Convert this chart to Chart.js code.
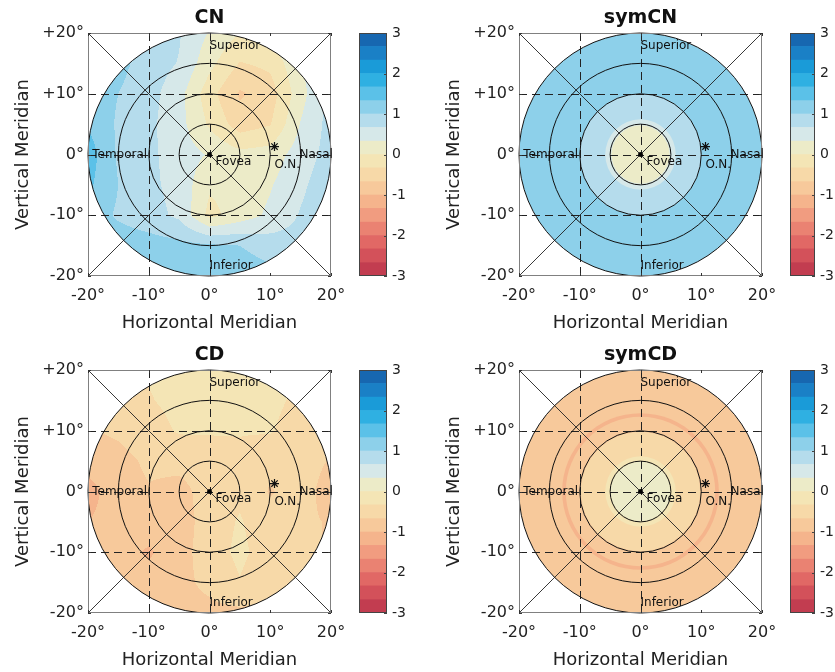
<!DOCTYPE html>
<html>
<head>
<meta charset="utf-8">
<title>CN / symCN / CD / symCD</title>
<script src="https://cdn.jsdelivr.net/npm/chart.js@4.4.1/dist/chart.umd.min.js"></script>
<style>
  body { margin: 0; background: #fff; }
  #wrap { position: relative; width: 835px; height: 672px; overflow: hidden; }
  #wrap canvas { position: absolute; }
</style>
</head>
<body>
<div id="wrap">
  <canvas id="mapCN" width="345" height="336" style="left:0;top:0"></canvas>
  <canvas id="barCN" width="80" height="336" style="left:350px;top:0"></canvas>
  <canvas id="mapSymCN" width="345" height="336" style="left:431px;top:0"></canvas>
  <canvas id="barSymCN" width="55" height="336" style="left:780px;top:0"></canvas>
  <canvas id="mapCD" width="345" height="336" style="left:0;top:337px"></canvas>
  <canvas id="barCD" width="80" height="336" style="left:350px;top:337px"></canvas>
  <canvas id="mapSymCD" width="345" height="336" style="left:431px;top:337px"></canvas>
  <canvas id="barSymCD" width="55" height="336" style="left:780px;top:337px"></canvas>
</div>
<script>
// Axis ticks (degrees of eccentricity)
const axisTicks = [-20, -10, 0, 10, 20];
const dashedX = [-10, 0];
const dashedY = [-10, 0, 10];
const ringLines = [5, 10, 15, 20];
const fieldRadius = 20;

// Colour scale: 18 levels from -3 to 3
const levelEdges = [-3, -2.67, -2.33, -2, -1.67, -1.33, -1, -0.67, -0.33, 0,
                    0.33, 0.67, 1, 1.33, 1.67, 2, 2.33, 2.67, 3];
const bandColors = ['#c23d50', '#d3515a', '#e16865', '#ea8272', '#f19c80', '#f5b48c',
                    '#f7c99b', '#f7d9a8', '#f4e5b5', '#ecebc8', '#d6e8e9', '#b5dcec',
                    '#8dd0ea', '#5bc1e8', '#2fb0e2', '#1a9bd8', '#1a80c6', '#1767b0'];

// Sample grid for the measured maps (x left->right, y top->bottom)
const gridX = [-20, -15, -10, -5, 0, 5, 10, 15, 20];
const gridY = [20, 15, 10, 5, 0, -5, -10, -15, -20];

const cnValues = [
  [1.2, 1.1, 1.0, 0.7, 0.3, 0.0, 0.1, 0.5, 0.9],
  [1.2, 1.1, 0.85, 0.65, 0.1, -0.35, -0.25, 0.3, 0.8],
  [1.2, 1.0, 0.8, 0.45, -0.2, -0.72, -0.5, 0.2, 0.8],
  [1.3, 0.95, 0.75, 0.45, -0.05, -0.5, -0.35, 0.35, 0.8],
  [1.5, 0.95, 0.75, 0.5, 0.3, 0.1, 0.15, 0.5, 0.8],
  [1.4, 1.0, 0.75, 0.55, 0.05, 0.1, 0.3, 0.6, 0.9],
  [1.2, 0.95, 0.8, 0.6, -0.1, 0.15, 0.4, 0.7, 0.9],
  [1.2, 1.2, 1.15, 1.1, 1.05, 1.0, 0.85, 0.8, 0.9],
  [1.2, 1.2, 1.2, 1.2, 1.2, 1.2, 1.1, 1.0, 0.9]
];

const cdValues = [
  [-0.6, -0.5, -0.3, -0.25, -0.2, -0.2, -0.2, -0.3, -0.5],
  [-0.6, -0.5, -0.35, -0.25, -0.2, -0.2, -0.25, -0.4, -0.5],
  [-0.7, -0.6, -0.45, -0.3, -0.3, -0.3, -0.3, -0.5, -0.6],
  [-0.9, -0.8, -0.6, -0.55, -0.5, -0.45, -0.6, -0.5, -0.7],
  [-1.1, -0.85, -0.7, -0.8, -0.5, -0.4, -0.7, -0.5, -0.85],
  [-1.0, -0.9, -0.8, -0.85, -0.5, -0.3, -0.55, -0.6, -0.7],
  [-0.9, -0.85, -1.05, -0.8, -0.5, -0.25, -0.5, -0.6, -0.7],
  [-0.8, -0.85, -0.85, -0.75, -0.6, -0.35, -0.6, -0.7, -0.7],
  [-0.75, -0.75, -0.75, -0.75, -0.75, -0.75, -0.75, -0.75, -0.75]
];

// Radial profiles for the symmetric maps (outer radius of each ring, value)
const symCNRadii = [20, 10, 5.8, 4.8];
const symCNValues = [1.15, 0.85, 0.5, 0.15];
const symCDRadii = [20, 12.9, 12.3, 9.8, 5.8, 4.9];
const symCDValues = [-0.85, -1.15, -0.85, -0.5, -0.15, 0.05];

// Landmarks
const fovea = [{x: 0, y: 0}];
const opticNerve = [{x: 10.7, y: 1.3}];

const mapNotes = [
  {text: 'Superior', x: 0, y: 17.8, align: 'left'},
  {text: 'Temporal', x: -19.3, y: 0, align: 'left'},
  {text: 'Nasal', x: 20.3, y: 0, align: 'right'},
  {text: 'Fovea', x: 1.0, y: -1.2, align: 'left'},
  {text: 'O.N.', x: 10.7, y: -1.7, align: 'left'},
  {text: 'Inferior', x: 0, y: -18.3, align: 'left'}
];

const FONT = "'DejaVu Sans', 'Open Sans', sans-serif";
Chart.defaults.font.family = FONT;
Chart.defaults.color = '#1a1a1a';

const bandRgb = bandColors.map(h => [1, 3, 5].map(i => parseInt(h.substr(i, 2), 16)));

function bandIndex(v) {
    for (let i = 0; i < bandColors.length; i++) {
        if (v < levelEdges[i + 1]) return i;
    }
    return bandColors.length - 1;
}

function sampleGrid(values, xv, yv) {
    const sx = (xv - gridX[0]) / (gridX[1] - gridX[0]);
    const sy = (yv - gridY[0]) / (gridY[1] - gridY[0]);
    const fx = Math.min(Math.max(sx, 0), gridX.length - 1.0001);
    const fy = Math.min(Math.max(sy, 0), gridY.length - 1.0001);
    const i = Math.floor(fx), j = Math.floor(fy);
    const tx = fx - i, ty = fy - j;
    const top = values[j][i] * (1 - tx) + values[j][i + 1] * tx;
    const bot = values[j + 1][i] * (1 - tx) + values[j + 1][i + 1] * tx;
    return top * (1 - ty) + bot * ty;
}

// Draws the contour field, the reference lines and the labels
function fieldPlugin(source) {
    return {
        id: 'field',
        beforeDatasetsDraw(chart) {
            const {ctx, chartArea: area, scales: {x, y}} = chart;
            const cx = x.getPixelForValue(0), cy = y.getPixelForValue(0);
            const rx = x.getPixelForValue(fieldRadius) - cx;
            const ry = cy - y.getPixelForValue(fieldRadius);

            ctx.save();
            ctx.beginPath();
            ctx.ellipse(cx, cy, rx, ry, 0, 0, Math.PI * 2);
            ctx.clip();
            if (source.grid) {
                const w = Math.ceil(area.width), h = Math.ceil(area.height);
                const off = document.createElement('canvas');
                off.width = w; off.height = h;
                const octx = off.getContext('2d');
                const img = octx.createImageData(w, h);
                for (let j = 0; j < h; j++) {
                    const yv = y.getValueForPixel(area.top + j + 0.5);
                    for (let i = 0; i < w; i++) {
                        const xv = x.getValueForPixel(area.left + i + 0.5);
                        const c = bandRgb[bandIndex(sampleGrid(source.grid, xv, yv))];
                        const k = (j * w + i) * 4;
                        img.data[k] = c[0]; img.data[k + 1] = c[1]; img.data[k + 2] = c[2]; img.data[k + 3] = 255;
                    }
                }
                octx.putImageData(img, 0, 0);
                ctx.drawImage(off, area.left, area.top);
            } else {
                source.radii.forEach((r, k) => {
                    ctx.fillStyle = bandColors[bandIndex(source.values[k])];
                    ctx.beginPath();
                    ctx.ellipse(cx, cy, rx * r / fieldRadius, ry * r / fieldRadius, 0, 0, Math.PI * 2);
                    ctx.fill();
                });
            }
            ctx.restore();

            ctx.save();
            ctx.strokeStyle = '#222';
            ctx.lineWidth = 1;
            ctx.setLineDash([8, 5]);
            dashedX.forEach(v => {
                const p = Math.round(x.getPixelForValue(v)) + 0.5;
                ctx.beginPath(); ctx.moveTo(p, area.top); ctx.lineTo(p, area.bottom); ctx.stroke();
            });
            dashedY.forEach(v => {
                const p = Math.round(y.getPixelForValue(v)) + 0.5;
                ctx.beginPath(); ctx.moveTo(area.left, p); ctx.lineTo(area.right, p); ctx.stroke();
            });
            ctx.setLineDash([]);

            // diagonals
            ctx.lineWidth = 0.9;
            ctx.beginPath();
            ctx.moveTo(area.left, area.top); ctx.lineTo(area.right, area.bottom);
            ctx.moveTo(area.left, area.bottom); ctx.lineTo(area.right, area.top);
            ctx.stroke();

            // eccentricity circles
            ctx.strokeStyle = '#111';
            ctx.lineWidth = 1;
            ringLines.forEach(r => {
                ctx.beginPath();
                ctx.ellipse(cx, cy, rx * r / fieldRadius, ry * r / fieldRadius, 0, 0, Math.PI * 2);
                ctx.stroke();
            });

            // box and inward ticks
            ctx.strokeStyle = '#808080';
            ctx.strokeRect(area.left + 0.5, area.top + 0.5, area.width - 1, area.height - 1);
            ctx.strokeStyle = '#333';
            ctx.beginPath();
            axisTicks.forEach(v => {
                const px = Math.round(x.getPixelForValue(v)) + 0.5;
                const py = Math.round(y.getPixelForValue(v)) + 0.5;
                ctx.moveTo(px, area.top); ctx.lineTo(px, area.top + 3);
                ctx.moveTo(px, area.bottom); ctx.lineTo(px, area.bottom - 3);
                ctx.moveTo(area.left, py); ctx.lineTo(area.left + 3, py);
                ctx.moveTo(area.right, py); ctx.lineTo(area.right - 3, py);
            });
            ctx.stroke();
            ctx.restore();
        },
        afterDatasetsDraw(chart) {
            const {ctx, scales: {x, y}} = chart;
            ctx.save();
            ctx.font = '12px ' + FONT;
            ctx.fillStyle = '#111';
            ctx.textBaseline = 'middle';
            mapNotes.forEach(n => {
                ctx.textAlign = n.align;
                ctx.fillText(n.text, x.getPixelForValue(n.x), y.getPixelForValue(n.y));
            });
            ctx.restore();
        }
    };
}

function makeMap(id, title, source) {
    return new Chart(document.getElementById(id), {
        type: 'scatter',
        data: {
            datasets: [{
                data: fovea,
                pointStyle: 'circle',
                pointRadius: 2,
                backgroundColor: '#000',
                borderColor: '#000'
            }, {
                data: opticNerve,
                pointStyle: 'star',
                pointRadius: 4.5,
                borderColor: '#111',
                borderWidth: 1.2
            }]
        },
        options: {
            responsive: false,
            animation: false,
            events: [],
            layout: {padding: {left: 0, right: 14, top: 0, bottom: 0}},
            plugins: {
                legend: {display: false},
                tooltip: {enabled: false},
                title: {
                    display: true,
                    text: title,
                    fullSize: false,
                    color: '#111',
                    font: {size: 19, weight: 'bold'},
                    padding: {top: 6.6, bottom: 3.6}
                }
            },
            scales: {
                x: {
                    type: 'linear',
                    min: -20,
                    max: 20,
                    afterBuildTicks: s => { s.ticks = axisTicks.map(v => ({value: v})); },
                    ticks: {
                        callback: v => v + '°',
                        padding: 10,
                        maxRotation: 0,
                        autoSkip: false,
                        color: '#222',
                        font: {size: 16}
                    },
                    grid: {display: false, drawTicks: false},
                    border: {display: false},
                    title: {
                        display: true,
                        text: 'Horizontal Meridian',
                        color: '#222',
                        font: {size: 18},
                        padding: {top: 0, bottom: 2.2}
                    },
                    afterFit: s => { s.height = 60; s.paddingLeft = 0; s.paddingRight = 0; }
                },
                y: {
                    type: 'linear',
                    min: -20,
                    max: 20,
                    afterBuildTicks: s => { s.ticks = axisTicks.map(v => ({value: v})); },
                    ticks: {
                        callback: v => (v > 0 ? '+' : '') + v + '°',
                        padding: 4,
                        autoSkip: false,
                        color: '#222',
                        font: {size: 16}
                    },
                    grid: {display: false, drawTicks: false},
                    border: {display: false},
                    title: {
                        display: true,
                        text: 'Vertical Meridian',
                        color: '#222',
                        font: {size: 18},
                        padding: {top: 13, bottom: 0}
                    },
                    afterFit: s => { s.width = 88; s.paddingTop = 0; s.paddingBottom = 0; }
                }
            }
        },
        plugins: [fieldPlugin(source)]
    });
}

const colorbarFrame = {
    id: 'colorbarFrame',
    afterDatasetsDraw(chart) {
        const {ctx, chartArea: a, scales: {y}} = chart;
        ctx.save();
        ctx.strokeStyle = '#444';
        ctx.lineWidth = 1;
        ctx.strokeRect(Math.round(a.left) + 0.5, Math.round(a.top) + 0.5,
                       Math.round(a.width) - 1, Math.round(a.height) - 1);
        ctx.beginPath();
        y.ticks.forEach(t => {
            const p = Math.round(y.getPixelForValue(t.value)) + 0.5;
            ctx.moveTo(a.right, p); ctx.lineTo(a.right - 3, p);
        });
        ctx.stroke();
        ctx.restore();
    }
};

function makeColorbar(id, padLeft, axisWidth) {
    return new Chart(document.getElementById(id), {
        type: 'bar',
        data: {
            labels: [''],
            datasets: bandColors.map((c, i) => ({
                data: [[levelEdges[i], levelEdges[i + 1]]],
                backgroundColor: c,
                borderWidth: 0,
                barPercentage: 1,
                categoryPercentage: 1,
                grouped: false
            }))
        },
        options: {
            responsive: false,
            animation: false,
            events: [],
            layout: {padding: {left: padLeft, right: 0, top: 33, bottom: 60}},
            plugins: {legend: {display: false}, tooltip: {enabled: false}},
            scales: {
                x: {display: false},
                y: {
                    position: 'right',
                    min: -3,
                    max: 3,
                    ticks: {stepSize: 1, padding: 5, color: '#222', font: {size: 14}},
                    grid: {display: false, drawTicks: false},
                    border: {display: false},
                    afterFit: s => { s.width = axisWidth; s.paddingTop = 0; s.paddingBottom = 0; }
                }
            }
        },
        plugins: [colorbarFrame]
    });
}

makeMap('mapCN', 'CN', {grid: cnValues});
makeMap('mapSymCN', 'symCN', {radii: symCNRadii, values: symCNValues});
makeMap('mapCD', 'CD', {grid: cdValues});
makeMap('mapSymCD', 'symCD', {radii: symCDRadii, values: symCDValues});

makeColorbar('barCN', 9, 43);
makeColorbar('barSymCN', 10, 20);
makeColorbar('barCD', 9, 43);
makeColorbar('barSymCD', 10, 20);
</script>
</body>
</html>
